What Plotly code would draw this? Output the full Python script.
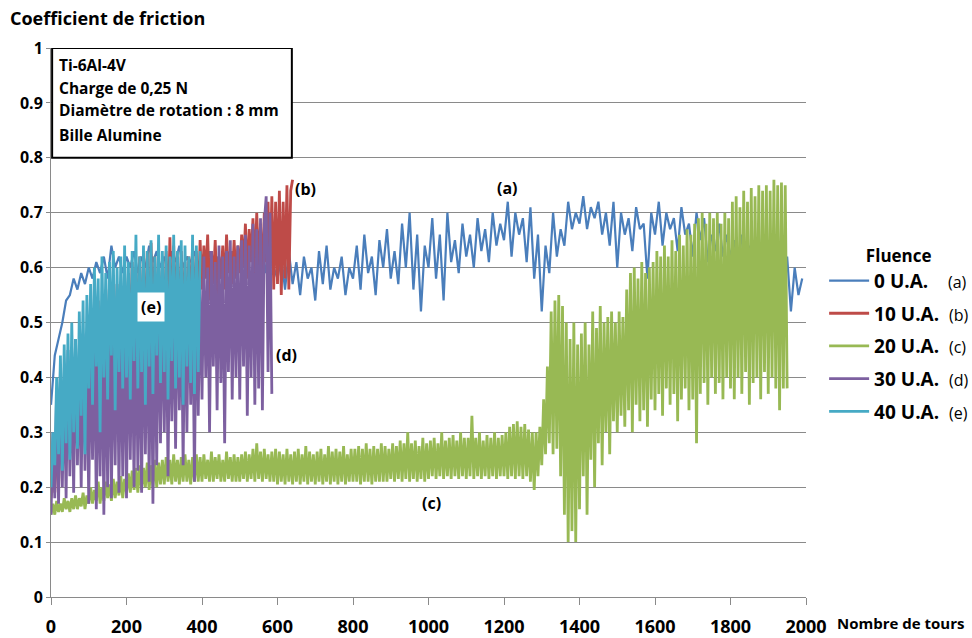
import plotly.graph_objects as go

# ---------------- data ----------------
# turn step of each series
step_a = 10
step_b = 5
step_c = 5
step_d = 5
step_e = 5

# (a) 0 U.A.  - 0..1990 turns, every 10 turns
fric_a = [
    0.35, 0.44, 0.47, 0.50, 0.54, 0.55, 0.58, 0.56, 0.59, 0.57, 0.60, 0.58, 0.61, 0.59, 0.62, 0.58, 0.64, 0.60, 0.62, 0.59,
    0.62, 0.60, 0.63, 0.59, 0.62, 0.60, 0.64, 0.61, 0.63, 0.60, 0.62, 0.59, 0.63, 0.61, 0.64, 0.60, 0.62, 0.61, 0.63, 0.60,
    0.62, 0.59, 0.63, 0.60, 0.62, 0.58, 0.61, 0.60, 0.63, 0.59, 0.62, 0.60, 0.61, 0.58, 0.62, 0.60, 0.63, 0.59, 0.61, 0.60,
    0.58, 0.62, 0.56, 0.63, 0.57, 0.61, 0.55, 0.62, 0.58, 0.60, 0.54, 0.63, 0.57, 0.64, 0.56, 0.60, 0.58, 0.62, 0.55, 0.60,
    0.58, 0.64, 0.56, 0.66, 0.59, 0.62, 0.55, 0.65, 0.60, 0.67, 0.58, 0.63, 0.57, 0.68, 0.60, 0.70, 0.56, 0.66, 0.52, 0.64,
    0.60, 0.69, 0.58, 0.66, 0.54, 0.70, 0.61, 0.65, 0.59, 0.68, 0.62, 0.66, 0.60, 0.69, 0.63, 0.67, 0.61, 0.70, 0.64, 0.68,
    0.65, 0.72, 0.62, 0.70, 0.66, 0.69, 0.61, 0.71, 0.58, 0.66, 0.52, 0.64, 0.59, 0.70, 0.62, 0.67, 0.64, 0.72, 0.67, 0.70,
    0.68, 0.73, 0.67, 0.71, 0.69, 0.72, 0.66, 0.70, 0.64, 0.72, 0.60, 0.70, 0.66, 0.69, 0.63, 0.71, 0.67, 0.68, 0.58, 0.70,
    0.66, 0.72, 0.64, 0.70, 0.67, 0.69, 0.63, 0.71, 0.66, 0.68, 0.62, 0.70, 0.65, 0.69, 0.61, 0.66, 0.63, 0.68, 0.62, 0.66,
    0.62, 0.65, 0.60, 0.66, 0.61, 0.64, 0.59, 0.65, 0.60, 0.63, 0.59, 0.64, 0.60, 0.63, 0.58, 0.62, 0.52, 0.60, 0.55, 0.58,
]

# (b) 10 U.A. - 0..640 turns, every 5 turns
fric_b = [
    0.18, 0.24, 0.19, 0.30, 0.20, 0.34, 0.26, 0.38, 0.28, 0.40, 0.30, 0.42, 0.28, 0.44, 0.32, 0.43, 0.30, 0.45, 0.33, 0.46,
    0.36, 0.50, 0.40, 0.52, 0.35, 0.54, 0.30, 0.53, 0.38, 0.56, 0.42, 0.55, 0.28, 0.56, 0.40, 0.57, 0.37, 0.56, 0.41, 0.58,
    0.42, 0.59, 0.45, 0.61, 0.40, 0.60, 0.46, 0.62, 0.43, 0.61, 0.47, 0.63, 0.44, 0.645, 0.48, 0.62, 0.45, 0.60, 0.49, 0.61,
    0.46, 0.63, 0.50, 0.655, 0.47, 0.64, 0.51, 0.62, 0.48, 0.63, 0.50, 0.61, 0.47, 0.62, 0.52, 0.64, 0.49, 0.63, 0.53, 0.65,
    0.56, 0.64, 0.58, 0.66, 0.54, 0.63, 0.57, 0.65, 0.55, 0.62, 0.58, 0.64, 0.56, 0.66, 0.59, 0.63, 0.57, 0.65, 0.58, 0.64,
    0.59, 0.66, 0.60, 0.68, 0.58, 0.67, 0.61, 0.69, 0.59, 0.70, 0.60, 0.68, 0.58, 0.70, 0.61, 0.72, 0.57, 0.73, 0.56, 0.72,
    0.57, 0.74, 0.55, 0.72, 0.58, 0.75, 0.56, 0.74, 0.76,
]

# (c) 20 U.A. - 0..1950 turns, every 5 turns
fric_c = [
    0.15, 0.17, 0.15, 0.175, 0.155, 0.17, 0.155, 0.18, 0.16, 0.175, 0.155, 0.18, 0.16, 0.185, 0.16, 0.18, 0.165, 0.19, 0.16, 0.185,
    0.17, 0.20, 0.17, 0.195, 0.175, 0.21, 0.17, 0.20, 0.175, 0.21, 0.18, 0.205, 0.175, 0.215, 0.18, 0.21, 0.185, 0.22, 0.18, 0.215,
    0.19, 0.225, 0.19, 0.23, 0.195, 0.235, 0.19, 0.24, 0.195, 0.235, 0.20, 0.245, 0.195, 0.24, 0.20, 0.25, 0.20, 0.245, 0.205, 0.25,
    0.205, 0.255, 0.21, 0.25, 0.205, 0.26, 0.21, 0.25, 0.205, 0.255, 0.21, 0.26, 0.21, 0.25, 0.205, 0.255, 0.21, 0.26, 0.21, 0.255,
    0.21, 0.26, 0.215, 0.25, 0.21, 0.265, 0.21, 0.255, 0.215, 0.26, 0.21, 0.25, 0.21, 0.265, 0.215, 0.255, 0.21, 0.26, 0.21, 0.255,
    0.21, 0.26, 0.215, 0.265, 0.21, 0.26, 0.215, 0.27, 0.21, 0.28, 0.215, 0.265, 0.21, 0.27, 0.215, 0.26, 0.21, 0.265, 0.21, 0.27,
    0.205, 0.265, 0.21, 0.26, 0.205, 0.27, 0.21, 0.26, 0.205, 0.265, 0.21, 0.27, 0.205, 0.26, 0.21, 0.275, 0.205, 0.265, 0.21, 0.26,
    0.205, 0.265, 0.21, 0.27, 0.205, 0.26, 0.21, 0.275, 0.205, 0.265, 0.21, 0.27, 0.205, 0.265, 0.21, 0.275, 0.205, 0.26, 0.21, 0.27,
    0.21, 0.27, 0.21, 0.275, 0.205, 0.27, 0.21, 0.28, 0.21, 0.27, 0.205, 0.275, 0.21, 0.27, 0.21, 0.28, 0.21, 0.275, 0.21, 0.27,
    0.215, 0.28, 0.21, 0.275, 0.215, 0.285, 0.21, 0.28, 0.215, 0.30, 0.21, 0.28, 0.215, 0.285, 0.21, 0.275, 0.215, 0.29, 0.21, 0.28,
    0.215, 0.285, 0.22, 0.29, 0.215, 0.28, 0.22, 0.30, 0.215, 0.285, 0.22, 0.29, 0.215, 0.295, 0.22, 0.285, 0.215, 0.30, 0.22, 0.29,
    0.215, 0.29, 0.22, 0.33, 0.215, 0.29, 0.22, 0.30, 0.215, 0.285, 0.22, 0.295, 0.215, 0.29, 0.22, 0.30, 0.215, 0.29, 0.22, 0.295,
    0.22, 0.30, 0.215, 0.31, 0.22, 0.315, 0.215, 0.32, 0.22, 0.31, 0.215, 0.315, 0.22, 0.305, 0.21, 0.30, 0.195, 0.30, 0.22, 0.31,
    0.24, 0.36, 0.26, 0.42, 0.28, 0.52, 0.26, 0.54, 0.27, 0.55, 0.22, 0.53, 0.15, 0.50, 0.10, 0.47, 0.12, 0.50, 0.10, 0.46,
    0.16, 0.48, 0.22, 0.50, 0.15, 0.46, 0.25, 0.52, 0.20, 0.49, 0.28, 0.53, 0.24, 0.50, 0.30, 0.51, 0.26, 0.52, 0.32, 0.50,
    0.30, 0.52, 0.33, 0.51, 0.31, 0.56, 0.34, 0.59, 0.30, 0.60, 0.35, 0.58, 0.32, 0.61, 0.34, 0.59, 0.31, 0.60, 0.36, 0.61,
    0.34, 0.63, 0.37, 0.62, 0.33, 0.64, 0.38, 0.62, 0.35, 0.65, 0.37, 0.63, 0.32, 0.66, 0.36, 0.64, 0.38, 0.67, 0.34, 0.66,
    0.36, 0.68, 0.28, 0.69, 0.37, 0.70, 0.39, 0.68, 0.35, 0.70, 0.40, 0.69, 0.37, 0.70, 0.39, 0.68, 0.36, 0.70, 0.40, 0.69,
    0.38, 0.72, 0.36, 0.73, 0.40, 0.71, 0.37, 0.74, 0.41, 0.72, 0.35, 0.745, 0.39, 0.73, 0.40, 0.75, 0.36, 0.74, 0.41, 0.75,
    0.37, 0.74, 0.40, 0.76, 0.38, 0.75, 0.34, 0.755, 0.38, 0.75, 0.38,
]

# (d) 30 U.A. - 0..585 turns, every 5 turns
fric_d = [
    0.15, 0.30, 0.18, 0.38, 0.17, 0.42, 0.20, 0.40, 0.18, 0.45, 0.22, 0.43, 0.19, 0.47, 0.24, 0.44, 0.20, 0.48, 0.23, 0.46,
    0.17, 0.48, 0.25, 0.50, 0.16, 0.47, 0.22, 0.51, 0.15, 0.49, 0.20, 0.52, 0.18, 0.50, 0.24, 0.53, 0.19, 0.51, 0.22, 0.52,
    0.18, 0.53, 0.25, 0.51, 0.20, 0.54, 0.23, 0.52, 0.19, 0.55, 0.26, 0.53, 0.21, 0.55, 0.17, 0.54, 0.24, 0.56, 0.28, 0.55,
    0.30, 0.56, 0.22, 0.57, 0.32, 0.55, 0.27, 0.58, 0.34, 0.56, 0.24, 0.57, 0.30, 0.58, 0.35, 0.57, 0.21, 0.59, 0.33, 0.58,
    0.36, 0.62, 0.40, 0.60, 0.30, 0.63, 0.42, 0.61, 0.34, 0.64, 0.39, 0.62, 0.28, 0.63, 0.41, 0.65, 0.36, 0.62, 0.40, 0.64,
    0.36, 0.65, 0.42, 0.66, 0.33, 0.64, 0.40, 0.68, 0.35, 0.67, 0.38, 0.69, 0.34, 0.68, 0.73, 0.41, 0.70, 0.37,
]

# (e) 40 U.A. - 0..395 turns, every 5 turns
fric_e = [
    0.20, 0.30, 0.24, 0.40, 0.26, 0.44, 0.23, 0.46, 0.28, 0.48, 0.25, 0.50, 0.30, 0.47, 0.27, 0.52, 0.33, 0.54, 0.26, 0.55,
    0.38, 0.57, 0.35, 0.60, 0.42, 0.58, 0.30, 0.62, 0.40, 0.59, 0.36, 0.61, 0.44, 0.63, 0.34, 0.60, 0.41, 0.62, 0.38, 0.64,
    0.40, 0.61, 0.36, 0.63, 0.43, 0.66, 0.38, 0.62, 0.41, 0.64, 0.35, 0.63, 0.42, 0.65, 0.37, 0.62, 0.44, 0.66, 0.39, 0.63,
    0.41, 0.64, 0.36, 0.62, 0.43, 0.66, 0.38, 0.63, 0.40, 0.65, 0.35, 0.64, 0.42, 0.62, 0.39, 0.66, 0.37, 0.64, 0.41, 0.63,
]

series_names = ["0 U.A.", "10 U.A.", "20 U.A.", "30 U.A.", "40 U.A."]
series_tags = ["(a)", "(b)", "(c)", "(d)", "(e)"]
series_values = [fric_a, fric_b, fric_c, fric_d, fric_e]
series_steps = [step_a, step_b, step_c, step_d, step_e]
series_colors = ["#4A7EBB", "#BE4B48", "#98B954", "#7D60A0", "#46AAC5"]
line_widths = [2.2, 2.8, 2.8, 2.8, 2.8]
name_pads = ["\u00a0\u00a0\u00a0", "\u00a0", "\u00a0", "\u00a0", "\u00a0"]

x_ticks = [0, 200, 400, 600, 800, 1000, 1200, 1400, 1600, 1800, 2000]

info_lines = ["Ti-6Al-4V", "Charge de 0,25 N", "Diamètre de rotation : 8 mm", "Bille Alumine"]

FONT = "Open Sans"
GRID = "#8a8a8a"

fig = go.Figure()
for name, tag, vals, st, col, lw, pad in zip(series_names, series_tags, series_values,
                                             series_steps, series_colors, line_widths, name_pads):
    fig.add_trace(go.Scatter(
        x=[i * st for i in range(len(vals))],
        y=vals,
        mode="lines",
        line=dict(color=col, width=lw, simplify=False),
        name=f"<b>{name}</b>{pad} <span style='font-size:16px'>{tag}</span>",
        legendgroup=name,
    ))

# curve labels
label_pos = {"(a)": (1208, 0.745), "(b)": (675, 0.743), "(c)": (1008, 0.172),
             "(d)": (623, 0.441), "(e)": (265, 0.528)}
for tag, (lx, ly) in label_pos.items():
    fig.add_annotation(x=lx, y=ly, xref="x", yref="y", text=f"<b>{tag}</b>",
                       showarrow=False, font=dict(family=FONT, size=16, color="black"),
                       bgcolor="white" if tag == "(e)" else None, borderpad=3)

# info box
fig.add_shape(type="rect", xref="x", yref="y", x0=3, x1=638, y0=0.80, y1=1.0,
              line=dict(color="black", width=2), fillcolor="white", layer="above")
info_y = [0.969, 0.927, 0.887, 0.842]
for txt, iy in zip(info_lines, info_y):
    fig.add_annotation(x=16, y=iy, xref="x", yref="y", text=f"<b>{txt}</b>",
                       showarrow=False, xanchor="left", yanchor="middle",
                       font=dict(family=FONT, size=15.5, color="black"))

# axis titles
fig.add_annotation(x=-0.057, y=1.055, xref="paper", yref="paper",
                   text="<b>Coefficient de friction</b>", showarrow=False,
                   xanchor="left", yanchor="middle",
                   font=dict(family=FONT, size=18, color="black"))
fig.add_annotation(x=1.039, y=-0.048, xref="paper", yref="paper",
                   text="<b>Nombre de tours</b>", showarrow=False,
                   xanchor="left", yanchor="middle",
                   font=dict(family=FONT, size=15, color="black"))

fig.update_layout(
    width=972, height=638,
    margin=dict(l=51, r=166, t=48, b=41, autoexpand=False),
    paper_bgcolor="white", plot_bgcolor="white",
    font=dict(family=FONT, color="black"),
    showlegend=True,
    legend=dict(
        x=1.024, y=0.651, xanchor="left", yanchor="top",
        title=dict(text="\u00a0" * 9 + "<b>Fluence</b>", font=dict(family=FONT, size=17)),
        font=dict(family=FONT, size=19, color="black"),
        tracegroupgap=5, itemwidth=40, bgcolor="rgba(0,0,0,0)",
    ),
    xaxis=dict(
        range=[0, 2000], tickvals=x_ticks, ticktext=[f"<b>{v}</b>" for v in x_ticks],
        showgrid=False, zeroline=False, showline=True, linecolor=GRID, linewidth=1,
        ticks="outside", ticklen=7, tickcolor=GRID, ticklabelstandoff=6,
        tickfont=dict(family=FONT, size=18, color="black"), automargin=False,
    ),
    yaxis=dict(
        range=[0, 1.0], dtick=0.1, tick0=0,
        showgrid=True, gridcolor=GRID, gridwidth=1, zeroline=False,
        showline=True, linecolor=GRID, linewidth=1,
        ticks="outside", ticklen=4, tickcolor=GRID, automargin=False,
        tickfont=dict(family=FONT, size=16, color="black", weight="bold"),
    ),
)

fig.write_html("out.html", config={"displayModeBar": False},
               post_script="document.body.style.margin='0';")
